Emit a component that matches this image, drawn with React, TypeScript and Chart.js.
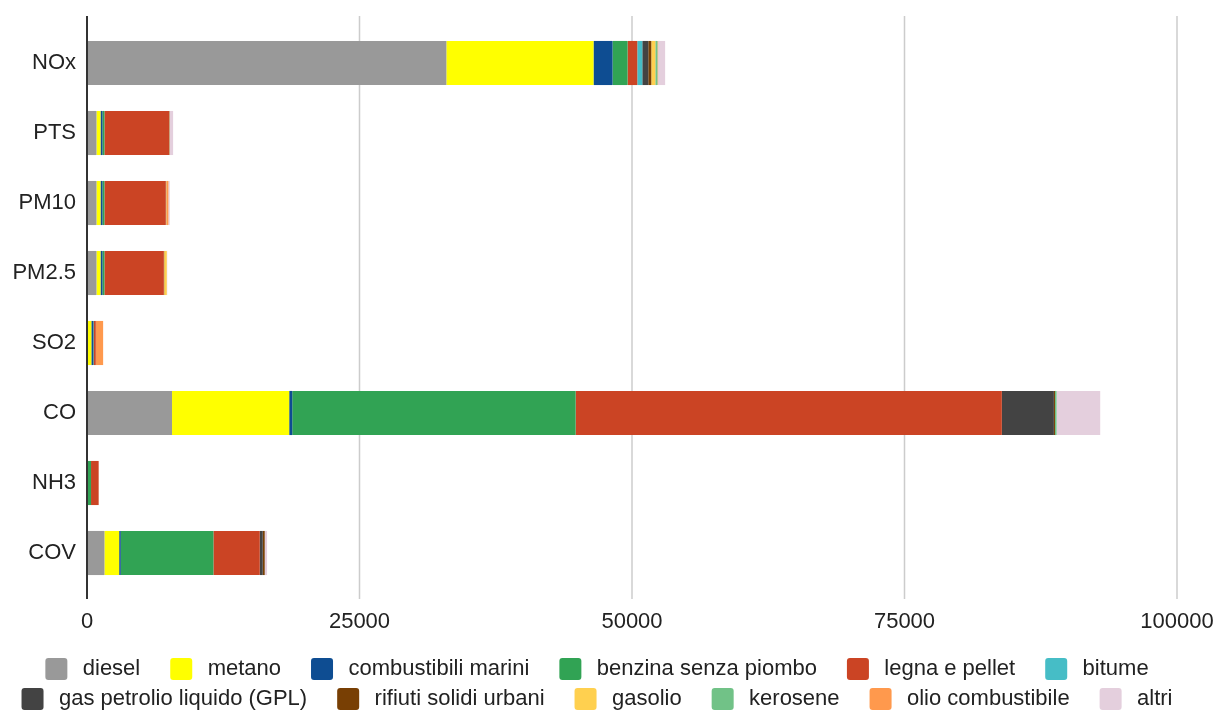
import React, { useEffect, useRef } from "react";
import { Chart, registerables } from "chart.js";

Chart.register(...registerables);

const categories = ["NOx", "PTS", "PM10", "PM2.5", "SO2", "CO", "NH3", "COV"];

const diesel = [32970, 870, 870, 870, 30, 7800, 0, 1600];
const metano = [13500, 370, 370, 370, 370, 10750, 0, 1350];
const combustibiliMarini = [1745, 180, 180, 180, 180, 280, 0, 150];
const benzinaSenzaPiombo = [1380, 180, 180, 180, 40, 26000, 370, 8500];
const legnaPellet = [890, 5940, 5630, 5450, 180, 39100, 700, 4250];
const bitume = [460, 0, 0, 0, 0, 0, 0, 0];
const gpl = [550, 20, 20, 20, 0, 4775, 0, 275];
const rifiuti = [275, 10, 10, 10, 30, 100, 0, 180];
const gasolio = [370, 30, 30, 240, 0, 0, 0, 0];
const kerosene = [200, 0, 0, 0, 0, 150, 0, 0];
const olioCombustibile = [60, 0, 180, 0, 650, 0, 0, 0];
const altri = [640, 300, 120, 40, 0, 4000, 0, 215];

const seriesNames = [
  "diesel",
  "metano",
  "combustibili marini",
  "benzina senza piombo",
  "legna e pellet",
  "bitume",
  "gas petrolio liquido (GPL)",
  "rifiuti solidi urbani",
  "gasolio",
  "kerosene",
  "olio combustibile",
  "altri",
];
const seriesValues = [
  diesel,
  metano,
  combustibiliMarini,
  benzinaSenzaPiombo,
  legnaPellet,
  bitume,
  gpl,
  rifiuti,
  gasolio,
  kerosene,
  olioCombustibile,
  altri,
];
const seriesColors = [
  "#999999",
  "#ffff00",
  "#0e4d92",
  "#31a354",
  "#cb4424",
  "#46bdc6",
  "#434343",
  "#783f04",
  "#ffd04f",
  "#71c287",
  "#ff994d",
  "#e4cfdd",
];

const xTicks = [0, 25000, 50000, 75000, 100000];

const FONT = "'Liberation Sans', Arial, sans-serif";

const gridPlugin = {
  id: "gridExt",
  beforeDatasetsDraw(chart: any) {
    const { ctx, chartArea, scales } = chart;
    const x = scales.x;
    ctx.save();
    ctx.strokeStyle = "#cccccc";
    ctx.lineWidth = 1.5;
    xTicks.forEach((v) => {
      if (v === 0) return;
      const px = x.getPixelForValue(v);
      ctx.beginPath();
      ctx.moveTo(px, chartArea.top - 12);
      ctx.lineTo(px, chartArea.bottom + 11);
      ctx.stroke();
    });
    ctx.restore();
  },
  afterDatasetsDraw(chart: any) {
    const { ctx, chartArea, scales } = chart;
    const px = scales.x.getPixelForValue(0);
    ctx.save();
    ctx.strokeStyle = "#333333";
    ctx.lineWidth = 2;
    ctx.beginPath();
    ctx.moveTo(px, chartArea.top - 12);
    ctx.lineTo(px, chartArea.bottom + 11);
    ctx.stroke();
    ctx.restore();
  },
};

export default function App() {
  const ref = useRef<HTMLCanvasElement | null>(null);

  useEffect(() => {
    document.body.style.margin = "0";
    const canvas = ref.current;
    if (!canvas) return;
    const chart = new Chart(canvas, {
      type: "bar",
      data: {
        labels: categories,
        datasets: seriesNames.map((name, i) => ({
          label: name,
          data: seriesValues[i],
          backgroundColor: seriesColors[i],
          borderWidth: 0,
          categoryPercentage: 1,
          barPercentage: 0.63,
        })),
      },
      options: {
        indexAxis: "y",
        animation: false,
        responsive: false,
        devicePixelRatio: 1,
        layout: { padding: { top: 28, left: 0, right: 0, bottom: 0 } },
        scales: {
          x: {
            stacked: true,
            min: 0,
            max: 100000,
            afterBuildTicks: (s: any) => {
              s.ticks = xTicks.map((v) => ({ value: v }));
            },
            afterFit: (s: any) => {
              s.height = 62;
              s.paddingLeft = 0;
              s.paddingRight = 0;
            },
            grid: { display: false, drawTicks: false },
            border: { display: false },
            ticks: {
              padding: 21,
              color: "#222222",
              font: { family: FONT, size: 22 },
              callback: (v: any) => String(v),
              maxRotation: 0,
            },
          },
          y: {
            stacked: true,
            afterFit: (s: any) => {
              s.width = 87;
            },
            grid: { display: false, drawTicks: false },
            border: { display: false },
            ticks: {
              padding: 11,
              color: "#222222",
              font: { family: FONT, size: 22 },
            },
          },
          yRight: {
            type: "linear",
            position: "right",
            axis: "y",
            display: true,
            afterFit: (s: any) => {
              s.width = 39;
              s.paddingTop = 0;
              s.paddingBottom = 0;
            },
            grid: { display: false, drawTicks: false },
            border: { display: false },
            ticks: { display: false },
          },
        } as any,
        plugins: {
          legend: {
            position: "bottom",
            align: "center",
            labels: {
              boxWidth: 22,
              boxHeight: 22,
              padding: 8,
              color: "#222222",
              font: { family: FONT, size: 22 },
              useBorderRadius: true,
              borderRadius: 3,
              generateLabels: (c: any) => {
                const base = Chart.defaults.plugins.legend.labels.generateLabels(c);
                return base.map((item: any) => ({
                  ...item,
                  text: "\u2009" + item.text + "\u2002\u2002",
                  lineWidth: 0,
                }));
              },
            },
          },
          tooltip: { enabled: false },
        },
      },
      plugins: [gridPlugin],
    } as any);
    return () => chart.destroy();
  }, []);

  return (
    <div
      style={{
        position: "absolute",
        left: 0,
        top: 0,
        width: 1216,
        height: 711,
        overflow: "hidden",
        background: "#ffffff",
      }}
    >
      <canvas
        ref={ref}
        width={1216}
        height={720}
        style={{ display: "block", width: 1216, height: 720 }}
      />
    </div>
  );
}
